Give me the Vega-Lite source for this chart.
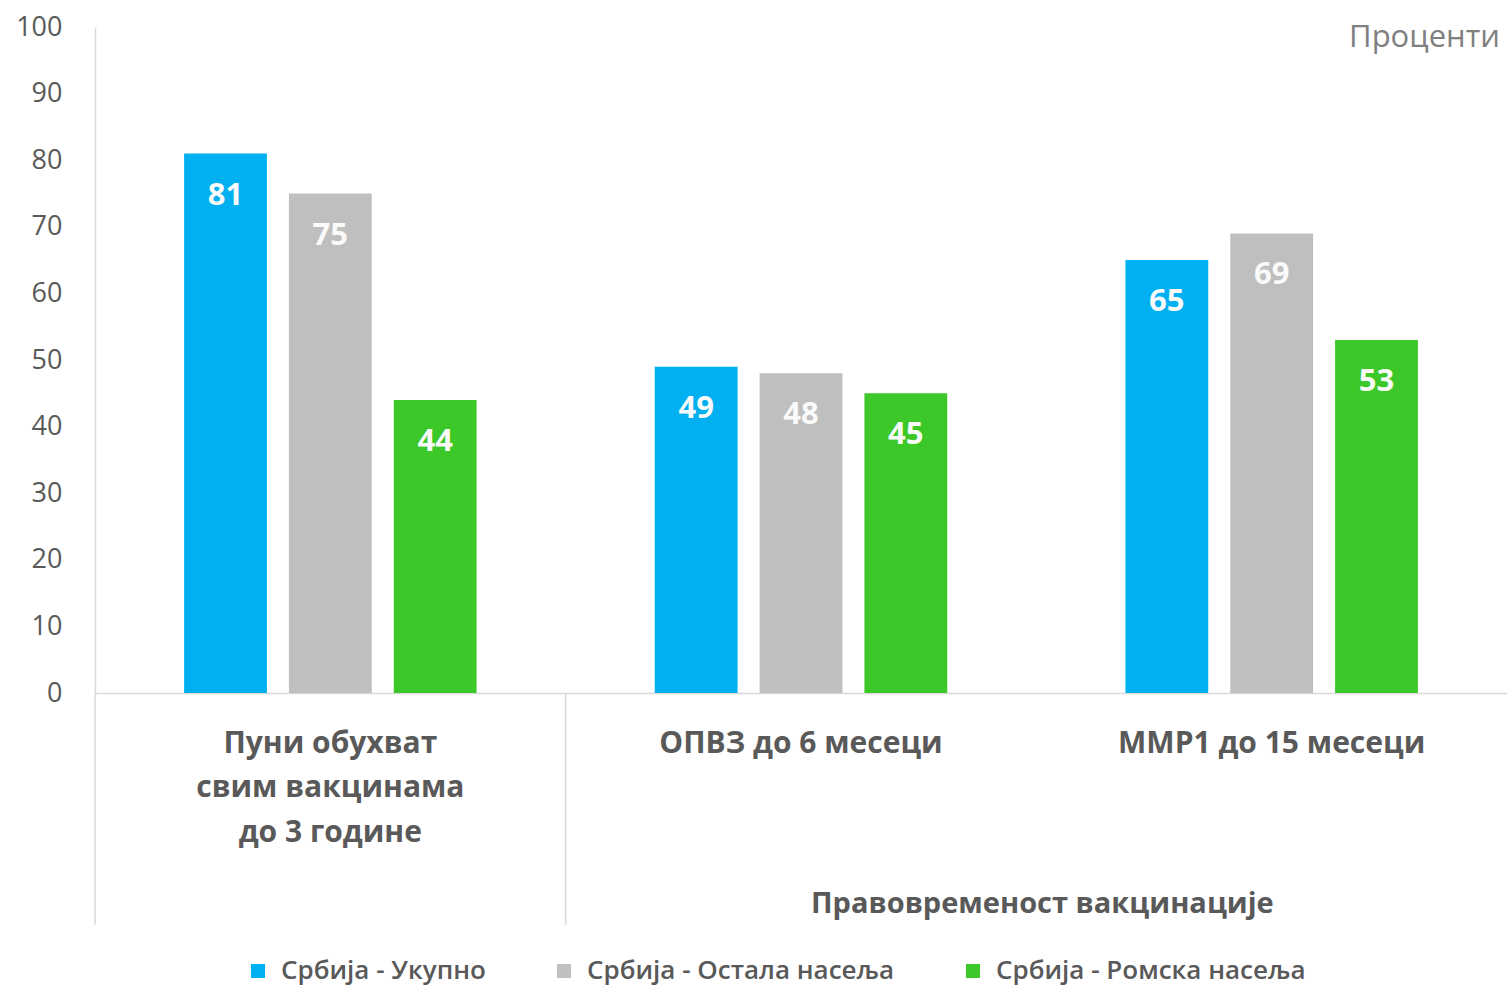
{
  "$schema": "https://vega.github.io/schema/vega-lite/v6.json",
  "width": 1412,
  "height": 666,
  "autosize": {"type": "none"},
  "padding": {"left": 95, "top": 27, "right": 0, "bottom": 298},
  "background": "white",
  "config": {"view": {"stroke": null}, "font": "Open Sans"},
  "title": {"text": "Проценти", "anchor": "end", "orient": "top", "offset": -10, "dy": 46, "baseline": "middle", "fontSize": 31, "fontWeight": "normal", "color": "#808080", "dx": -7},
  "datasets": {
    "main": [
      {"cat": "Пуни обухват свим вакцинама до 3 године", "series": "Србија - Укупно", "value": 81},
      {"cat": "Пуни обухват свим вакцинама до 3 године", "series": "Србија - Остала насеља", "value": 75},
      {"cat": "Пуни обухват свим вакцинама до 3 године", "series": "Србија - Ромска насеља", "value": 44},
      {"cat": "ОПВЗ до 6 месеци", "series": "Србија - Укупно", "value": 49},
      {"cat": "ОПВЗ до 6 месеци", "series": "Србија - Остала насеља", "value": 48},
      {"cat": "ОПВЗ до 6 месеци", "series": "Србија - Ромска насеља", "value": 45},
      {"cat": "ММР1 до 15 месеци", "series": "Србија - Укупно", "value": 65},
      {"cat": "ММР1 до 15 месеци", "series": "Србија - Остала насеља", "value": 69},
      {"cat": "ММР1 до 15 месеци", "series": "Србија - Ромска насеља", "value": 53}
    ],
    "seps": [
      {"cat": "Пуни обухват свим вакцинама до 3 године"},
      {"cat": "ОПВЗ до 6 месеци"}
    ],
    "parents": [
      {"cat": "ММР1 до 15 месеци", "parent": "Правовременост вакцинације"}
    ]
  },
  "layer": [
    {
      "data": {"name": "main"},
      "mark": {"type": "bar"},
      "encoding": {
        "x": {
          "field": "cat", "type": "nominal",
          "sort": ["Пуни обухват свим вакцинама до 3 године", "ОПВЗ до 6 месеци", "ММР1 до 15 месеци"],
          "scale": {"paddingInner": 0, "paddingOuter": 0},
          "axis": {
            "title": null, "labelAngle": 0, "ticks": false, "domainColor": "#D9D9D9", "domainWidth": 1.5,
            "labelFontSize": 30, "labelFontWeight": "bold", "labelColor": "#595959",
            "labelPadding": 35, "labelLineHeight": 44.5, "labelBaseline": "top", "labelLimit": 0,
            "labelExpr": "datum.value == 'Пуни обухват свим вакцинама до 3 године' ? ['Пуни обухват', 'свим вакцинама', 'до 3 године'] : datum.value"
          }
        },
        "xOffset": {
          "field": "series", "type": "nominal",
          "sort": ["Србија - Укупно", "Србија - Остала насеља", "Србија - Ромска насеља"],
          "scale": {"paddingInner": 0.21, "paddingOuter": 0.85}
        },
        "y": {
          "field": "value", "type": "quantitative",
          "scale": {"domain": [0, 100]},
          "axis": {
            "title": null, "ticks": false, "grid": false, "domainColor": "#D9D9D9", "domainWidth": 1.5,
            "labelColor": "#595959", "labelFontSize": 27, "labelPadding": 33, "values": [0, 10, 20, 30, 40, 50, 60, 70, 80, 90, 100]
          }
        },
        "color": {
          "field": "series", "type": "nominal",
          "sort": ["Србија - Укупно", "Србија - Остала насеља", "Србија - Ромска насеља"],
          "scale": {"range": ["#00B0F0", "#BFBFBF", "#3CC828"]},
          "legend": {
            "title": null, "orient": "none", "direction": "horizontal", "legendX": 150, "legendY": 931,
            "symbolType": "square", "symbolSize": 196, "symbolStrokeWidth": 0,
            "labelFontSize": 26, "labelFontWeight": 600, "labelColor": "#595959", "labelOffset": 10, "columnPadding": 65, "labelLimit": 0
          }
        }
      }
    },
    {
      "data": {"name": "main"},
      "mark": {"type": "text", "dy": 42, "baseline": "middle", "fontSize": 31, "fontWeight": "bold", "color": "#FAFAFA"},
      "encoding": {
        "x": {"field": "cat", "type": "nominal", "sort": ["Пуни обухват свим вакцинама до 3 године", "ОПВЗ до 6 месеци", "ММР1 до 15 месеци"]},
        "xOffset": {"field": "series", "type": "nominal", "sort": ["Србија - Укупно", "Србија - Остала насеља", "Србија - Ромска насеља"]},
        "y": {"field": "value", "type": "quantitative"},
        "text": {"field": "value", "type": "quantitative"}
      }
    },
    {
      "data": {"name": "seps"},
      "mark": {"type": "rule", "color": "#D9D9D9", "strokeWidth": 1.5},
      "encoding": {
        "x": {"field": "cat", "type": "nominal", "bandPosition": 0, "sort": ["Пуни обухват свим вакцинама до 3 године", "ОПВЗ до 6 месеци", "ММР1 до 15 месеци"]},
        "y": {"datum": 0},
        "y2": {"datum": -34.8}
      }
    },
    {
      "data": {"name": "parents"},
      "mark": {"type": "text", "baseline": "middle", "align": "center", "dx": 6, "fontSize": 29, "fontWeight": "bold", "color": "#595959"},
      "encoding": {
        "x": {"field": "cat", "type": "nominal", "bandPosition": 0, "sort": ["Пуни обухват свим вакцинама до 3 године", "ОПВЗ до 6 месеци", "ММР1 до 15 месеци"]},
        "y": {"datum": -31.7},
        "text": {"field": "parent"}
      }
    }
  ]
}
